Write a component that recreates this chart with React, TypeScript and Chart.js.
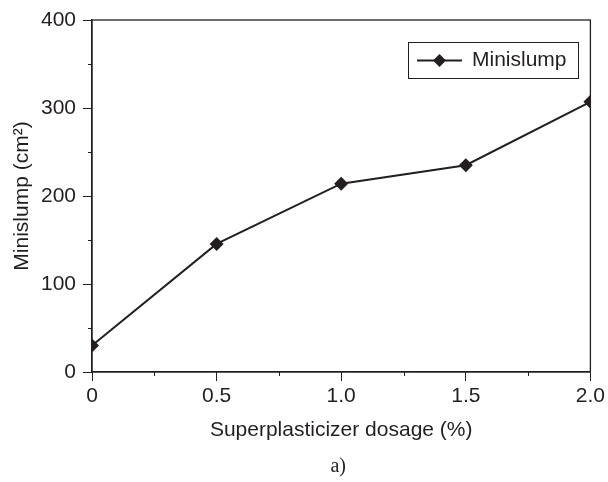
import React, { useEffect, useRef } from "react";
import { Chart, registerables } from "chart.js";

Chart.register(...registerables);

const dosage = [0, 0.5, 1.0, 1.5, 2.0];
const minislump = [30, 145.5, 214, 235, 307];
const seriesLabel = "Minislump";
const xTitle = "Superplasticizer dosage (%)";
const yTitle = "Minislump (cm²)";
const panelLabel = "a)";

const INK = "#231f20";
const FONT = "'Liberation Sans', Arial, Helvetica, sans-serif";

const framePlugin = {
  id: "frame",
  afterDraw(chart: any) {
    const { ctx, chartArea: a, scales } = chart;
    ctx.save();
    ctx.strokeStyle = INK;
    ctx.lineWidth = 1.3;
    ctx.strokeRect(a.left, a.top, a.right - a.left, a.bottom - a.top);
    // minor ticks
    ctx.lineWidth = 1;
    ctx.beginPath();
    for (let v = 50; v < 400; v += 100) {
      const y = Math.round(scales.y.getPixelForValue(v)) + 0.5;
      ctx.moveTo(a.left - 4, y);
      ctx.lineTo(a.left, y);
    }
    for (let v = 0.25; v < 2; v += 0.5) {
      const x = Math.round(scales.x.getPixelForValue(v)) + 0.5;
      ctx.moveTo(x, a.bottom);
      ctx.lineTo(x, a.bottom + 4);
    }
    ctx.stroke();

    // legend
    const bx = 408, by = 42, bw = 170, bh = 36;
    ctx.fillStyle = "#fff";
    ctx.fillRect(bx, by, bw, bh);
    ctx.lineWidth = 1;
    ctx.strokeStyle = INK;
    ctx.strokeRect(bx + 0.5, by + 0.5, bw, bh);
    const cy = by + bh / 2 + 0.5;
    ctx.lineWidth = 2;
    ctx.beginPath();
    ctx.moveTo(417, cy);
    ctx.lineTo(462, cy);
    ctx.stroke();
    ctx.fillStyle = INK;
    ctx.beginPath();
    const r = 6.5;
    ctx.moveTo(439.5, cy - r);
    ctx.lineTo(439.5 + r, cy);
    ctx.lineTo(439.5, cy + r);
    ctx.lineTo(439.5 - r, cy);
    ctx.closePath();
    ctx.fill();
    ctx.font = `21px ${FONT}`;
    ctx.textAlign = "left";
    ctx.textBaseline = "middle";
    ctx.fillText(chart.data.datasets[0].label, 472, cy);

    // panel label
    ctx.font = "20px 'Liberation Serif', 'Times New Roman', serif";
    ctx.textAlign = "center";
    ctx.textBaseline = "middle";
    ctx.fillText(panelLabel, (a.left + a.right) / 2 - 3, 467);
    ctx.restore();
  },
};

export default function App() {
  const ref = useRef<HTMLCanvasElement>(null);
  useEffect(() => {
    document.body.style.margin = "0";
    const chart = new Chart(ref.current as HTMLCanvasElement, {
      type: "line",
      data: {
        datasets: [
          {
            label: seriesLabel,
            data: dosage.map((x, i) => ({ x, y: minislump[i] })),
            borderColor: INK,
            backgroundColor: INK,
            borderWidth: 2,
            pointStyle: "rectRot",
            pointRadius: 7,
            pointBorderWidth: 0,
            pointBackgroundColor: INK,
            tension: 0,
          },
        ],
      },
      plugins: [framePlugin],
      options: {
        animation: false,
        responsive: false,
        layout: { padding: { left: 0, right: 16, top: 20, bottom: 0 } },
        plugins: { legend: { display: false }, tooltip: { enabled: false } },
        scales: {
          x: {
            type: "linear",
            min: 0,
            max: 2,
            afterFit: (s: any) => {
              s.height = 110;
            },
            ticks: {
              stepSize: 0.25,
              autoSkip: false,
              maxRotation: 0,
              padding: 3,
              color: INK,
              font: { family: FONT, size: 21 },
              callback: (v: any) => {
                const n = Number(v);
                if (Math.abs(n * 2 - Math.round(n * 2)) > 1e-6) return "";
                return n === 0 ? "0" : n.toFixed(1);
              },
            },
            grid: {
              drawOnChartArea: false,
              drawTicks: true,
              tickLength: 9,
              tickWidth: 1,
              tickColor: (c: any) =>
                c.tick && Math.abs(c.tick.value * 2 - Math.round(c.tick.value * 2)) > 1e-6
                  ? "rgba(0,0,0,0)"
                  : INK,
            },
            border: { display: true, color: INK, width: 1.3 },
            title: {
              display: true,
              text: xTitle,
              color: INK,
              font: { family: FONT, size: 21 },
              padding: { top: 4, bottom: 39 },
            },
          },
          y: {
            type: "linear",
            min: 0,
            max: 400,
            afterFit: (s: any) => {
              s.width = 92;
            },
            ticks: {
              stepSize: 50,
              autoSkip: false,
              padding: 7,
              color: INK,
              font: { family: FONT, size: 21 },
              callback: (v: any) => (Number(v) % 100 === 0 ? String(v) : ""),
            },
            grid: {
              drawOnChartArea: false,
              drawTicks: true,
              tickLength: 9,
              tickWidth: 1,
              tickColor: (c: any) =>
                c.tick && c.tick.value % 100 !== 0 ? "rgba(0,0,0,0)" : INK,
            },
            border: { display: true, color: INK, width: 1.3 },
            title: {
              display: true,
              text: yTitle,
              color: INK,
              font: { family: FONT, size: 21 },
              padding: { top: 10, bottom: 4 },
            },
          },
        },
      },
    } as any);
    return () => chart.destroy();
  }, []);
  return (
    <div style={{ width: 608, height: 482 }}>
      <canvas ref={ref} width={608} height={482} style={{ display: "block" }} />
    </div>
  );
}
